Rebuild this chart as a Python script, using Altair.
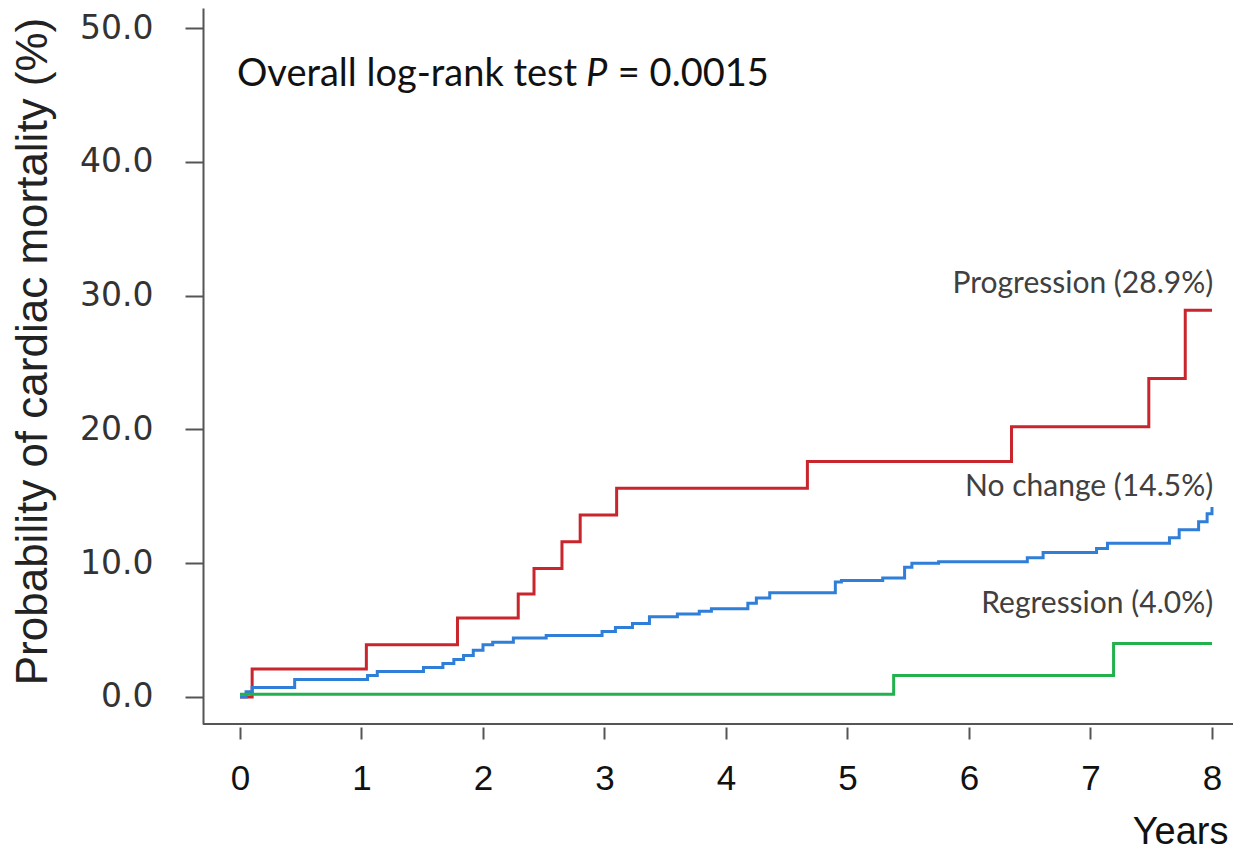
import altair as alt
import pandas as pd

# ---- data ----
groups = ["Progression", "No change", "Regression"]
colors = ["#c9252c", "#2f7ed8", "#22b14c"]

prog_t = [0, 0.10, 1.04, 1.79, 2.29, 2.42, 2.65, 2.80, 3.10, 4.67, 6.35, 7.48, 7.78, 8.0]
prog_v = [0, 2.1, 3.9, 5.9, 7.7, 9.6, 11.6, 13.6, 15.6, 17.6, 20.2, 23.8, 28.9, 28.9]

noch_t = [0, 0.05, 0.10, 0.45, 1.05, 1.13, 1.51, 1.67, 1.76, 1.84, 1.92, 2.00, 2.08, 2.25,
          2.52, 2.98, 3.09, 3.23, 3.37, 3.60, 3.78, 3.88, 4.18, 4.25, 4.36, 4.90, 4.95,
          5.29, 5.47, 5.53, 5.75, 6.48, 6.61, 7.05, 7.14, 7.65, 7.73, 7.89, 7.96, 8.00]
noch_v = [0, 0.4, 0.7, 1.3, 1.6, 1.9, 2.2, 2.5, 2.8, 3.1, 3.5, 3.9, 4.1, 4.4,
          4.6, 4.9, 5.2, 5.5, 6.0, 6.2, 6.4, 6.6, 7.0, 7.4, 7.8, 8.6, 8.7,
          8.9, 9.7, 10.0, 10.1, 10.4, 10.8, 11.1, 11.5, 11.9, 12.5, 13.1, 13.7, 14.2]

regr_t = [0, 5.38, 7.19, 8.0]
regr_v = [0.2, 1.6, 4.0, 4.0]

x_ticks = [0, 1, 2, 3, 4, 5, 6, 7, 8]
y_ticks = [0, 10, 20, 30, 40, 50]

label_text = ["Progression (28.9%)", "No change (14.5%)", "Regression (4.0%)"]
label_x = [8.01, 8.01, 8.01]
label_y = [30.2, 15.0, 6.3]

ptext = ["Overall log-rank test", "P", "= 0.0015"]
ptext_x = [-0.025, 2.848, 3.11]
ptext_y = [45.67, 45.67, 45.67]
ptext_style = ["normal", "italic", "normal"]

rows = []
for g, ts, vs in [(groups[0], prog_t, prog_v), (groups[1], noch_t, noch_v), (groups[2], regr_t, regr_v)]:
    for t, v in zip(ts, vs):
        rows.append({"group": g, "t": t, "v": v})
df = pd.DataFrame(rows)

W, H = 1030, 716
xscale = alt.Scale(domain=[-0.3045, 8.173], nice=False, zero=False)
yscale = alt.Scale(domain=[-2.02, 51.5], nice=False, zero=False)

lines = alt.Chart(df).mark_line(interpolate="step-after", strokeWidth=3).encode(
    x=alt.X("t:Q", scale=xscale, axis=alt.Axis(
        values=x_ticks, format="d", grid=False, domain=False, offset=3,
        tickSize=12, tickWidth=2, tickColor="#555",
        labelFont="Liberation Sans", labelFontSize=35, labelColor="#111", labelPadding=22,
        title="Years", titleFont="Liberation Sans", titleFontSize=38, titleFontWeight="normal",
        titleColor="#111", titleX=1025, titleY=116, titleAlign="right", titleBaseline="alphabetic")),
    y=alt.Y("v:Q", scale=yscale, axis=alt.Axis(
        values=y_ticks, format=".1f", grid=False, domain=True, domainColor="#555", domainWidth=2,
        tickSize=18, tickWidth=2, tickColor="#555",
        labelFont="DejaVu Sans", labelFontSize=33, labelColor="#333", labelPadding=32,
        title="Probability of cardiac mortality (%)", titleFont="Liberation Sans", titleFontSize=44,
        titleFontWeight="normal", titleColor="#222", titleAngle=-90, titleX=-170, titleY=343,
        titleAlign="center", titleBaseline="middle")),
    color=alt.Color("group:N", scale=alt.Scale(domain=groups, range=colors), legend=None),
)

bottom_line = alt.Chart(pd.DataFrame({"a": [0]})).mark_rule(color="#555", strokeWidth=2).encode(
    x=alt.value(0), x2=alt.value(W), y=alt.value(H)
)

lab_df = pd.DataFrame({"text": label_text, "x": label_x, "y": label_y})
labels = alt.Chart(lab_df).mark_text(
    align="right", baseline="alphabetic", font="Lato", fontSize=30, color="#404040"
).encode(
    x=alt.X("x:Q", scale=xscale), y=alt.Y("y:Q", scale=yscale), text="text:N"
)

p_layers = []
for txt, px, py, st in zip(ptext, ptext_x, ptext_y, ptext_style):
    d = pd.DataFrame({"text": [txt], "x": [px], "y": [py]})
    p_layers.append(
        alt.Chart(d).mark_text(
            align="left", baseline="alphabetic", font="Lato", fontSize=38, color="#111",
            fontStyle=st
        ).encode(x=alt.X("x:Q", scale=xscale), y=alt.Y("y:Q", scale=yscale), text="text:N")
    )

chart = alt.layer(lines, bottom_line, labels, *p_layers).properties(
    width=W, height=H,
    autosize=alt.AutoSizeParams(type="none"),
    padding={"left": 195, "top": 0, "right": 0, "bottom": 126},
    background="white",
).configure_view(stroke=None)

chart.save("out.html", embed_options={"renderer": "svg", "actions": False})
